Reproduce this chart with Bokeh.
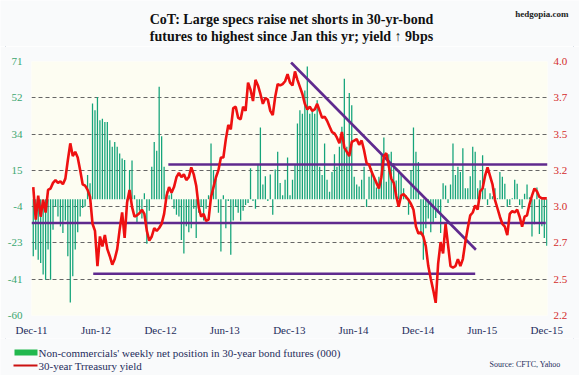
import pandas as pd
from bokeh.plotting import figure
from bokeh.layouts import column
from bokeh.models import Range1d, LinearAxis, FixedTicker, ColumnDataSource
from bokeh.core.properties import value
from bokeh.embed import file_html
from bokeh.resources import INLINE

# ---------------- data ----------------
first_week = "2011-12-06"

net_position = [
    -29.5, -26.1, -31.2, -32.9, -38.9, -41.5, -26, -41.5, -15.8, -3.8, -9, -14.1, -17.4, -11, -29.5, -53.3, -39.8, -26, -17, -9, -4.5, -3.8,
    12.4, 8.2, 49.3, 45.8, 52.7, 40.7, 41.5, 39.8, 39.8, 30.4, 27, 29.5, 27, 23.6, 21, 20.2, -2, 15, 20,
    2, -12, -6, -10, 3, -23, -6, 16.7, 29.5, 25, 58, 32.5, 16.7, 4, 2, 3, -5, -8, -9, -21, -28, -14, -17, -15, -5,
    -20, -7, -4, -11, -5, 2, 28.7, 15, 11.5, -7, -27, 2, -15, -1,
    -28.7, -11, -4, -7, -11, -6, -3, -2, 16, -1, -5, 17.8, 36.9, 7.5, 11.8, -1, 12.7, -8, 15.3, 24.4,
    8.4, 2, 10, 21.5, 2, 10, 17.8, 39, 45.8, 44, 56, 68.4, 44, 46.6, 44, 51, 16.7, 12.4, 28.7, 10, 3.8, 14,
    23.2, 16.7, 27, 37.3, 62.1, 27, 54.7, 48.4, 11.5, 7.5, 6.5, 10, 16.7, -4, 11.5, 16, 10.5, 6, 11.5, 22.7,
    31.8, 9, 23.2, 24.4, 18.6, 9.6, 15, 12.4, 5.6, 2, -8, 15, 36.9, 24.4, 19.2, -18.5, -31.2, -15, -10, -17, -12,
    -9.7, -7, -17.5, 8.2, 7, -2, 7.5, 28.7, 12.4, 16.7, 14, 26.2,
    5.6, 5.6, 11.8, 27, 24.4, 5.6, 9.7, 22.7, 5.6, -3, 3, 1.5, 5.6, 0.5, 14, 11.5, 8, -4, -3, 0.5, 10, 8, -3, -5, 2.8, 7.5, 1, -19.3,
    -13, 6, -18, -14, -20, -24,
]

treasury_yield = [
    3.11, 2.88, 3.05, 2.90, 3.02, 2.93, 3.09, 3.10, 3.14, 3.16, 3.14, 3.15, 3.13, 3.17, 3.30, 3.42, 3.33, 3.36, 3.32, 3.23,
    3.13, 3.12, 3.09, 3.04, 2.85, 2.80, 2.55, 2.76, 2.69, 2.77, 2.67, 2.62, 2.56, 2.60, 2.67, 2.81, 2.93, 2.75, 3.00, 3.09, 2.97,
    2.90, 2.91, 2.925, 2.95, 2.92, 2.80, 2.73, 2.76, 2.82, 2.80, 2.82, 2.85, 2.92, 3.05, 3.11, 3.07, 3.11, 3.18, 3.21, 3.18,
    3.20, 3.16, 3.18, 3.25, 3.20, 3.12, 2.97, 2.90, 2.92, 2.87, 2.88, 3.04, 3.11, 3.18, 3.23, 3.32, 3.32, 3.45, 3.55, 3.52, 3.67,
    3.68, 3.60, 3.59, 3.68, 3.65, 3.85, 3.80, 3.72, 3.87, 3.83, 3.77, 3.70, 3.74, 3.73, 3.65, 3.62, 3.75, 3.84, 3.83, 3.84,
    3.86, 3.91, 3.85, 3.83, 3.93, 3.87, 3.82, 3.77, 3.70, 3.66, 3.68, 3.65, 3.66, 3.70, 3.65, 3.60, 3.61, 3.58, 3.54, 3.50,
    3.49, 3.46, 3.42, 3.50, 3.39, 3.36, 3.33, 3.43, 3.44, 3.45, 3.41, 3.44, 3.37, 3.28, 3.27, 3.22, 3.18, 3.14, 3.10, 3.18,
    3.33, 3.35, 3.26, 3.17, 3.14, 3.05, 2.97, 3.05, 3.06, 3.04, 3.02, 2.99, 2.95, 2.83, 2.78, 2.79, 2.76, 2.69, 2.55, 2.46, 2.38,
    2.29, 2.57, 2.72, 2.64, 2.85, 2.70, 2.55, 2.54, 2.55, 2.60, 2.55, 2.60, 2.72, 2.82, 2.91, 2.93, 2.98, 2.95, 3.08, 3.10,
    3.19, 3.25, 3.19, 3.13, 3.02, 2.96, 2.90, 2.85, 2.83, 2.77, 2.92, 2.94, 2.93, 2.95, 2.90, 2.83, 2.90, 2.91, 2.99, 3.05,
    3.10, 3.08, 3.04, 3.03, 3.03, 3.03,
]

x_tick_dates = ["2011-12-01", "2012-06-01", "2012-12-01", "2013-06-01", "2013-12-01",
                "2014-06-01", "2014-12-01", "2015-06-01", "2015-12-01"]
x_tick_labels = ["Dec-11", "Jun-12", "Dec-12", "Jun-13", "Dec-13", "Jun-14", "Dec-14", "Jun-15", "Dec-15"]

left_ticks = [-60, -41.29, -22.57, -3.86, 14.86, 33.57, 52.29, 71]
left_labels = ["-60", "-41", "-23", "-4", "15", "34", "52", "71"]
right_ticks = [2.2, 2.457, 2.714, 2.971, 3.229, 3.486, 3.743, 4.0]
right_labels = ["2.2", "2.5", "2.7", "3.0", "3.2", "3.5", "3.7", "4.0"]

# trend lines drawn on the yield scale
trend_start_dates = ["2012-12-23", "2011-12-01", "2012-05-24", "2013-12-06"]
trend_start_yield = [3.27, 2.855, 2.496, 3.993]
trend_end_dates = ["2015-12-03", "2015-11-28", "2015-05-12", "2015-05-14"]
trend_end_yield = [3.27, 2.855, 2.496, 2.666]

title_lines = ["CoT: Large specs raise net shorts in 30-yr-bond",
               "futures to highest since Jan this yr; yield \u2191 9bps"]
brand = "hedgopia.com"
legend_labels = ["Non-commercials' weekly net position in 30-year bond futures (000)",
                 "30-year Trreasury yield"]
source_note = "Source: CFTC, Yahoo"

# ---------------- layout constants ----------------
W = 579
TOP_H, MAIN_H, BOT_H = 46, 292, 37
FL, FR = 31, 547            # frame left / right (px)
F_TOP, F_BOT = 15, 22       # frame borders inside main figure

BG_OUT = "#f9fafb"
BG_IN = "#fdfdf2"
serif = "Liberation Serif"
NAVY = "#1f2d5c"
BAR_GREEN = "#14a47a"
RED = "#ee1111"
PURPLE = "#5f2a8e"


def blank_fig(h):
    f = figure(width=W, height=h, x_range=Range1d(0, W), y_range=Range1d(h, 0),
               x_axis_type=None, y_axis_type=None, output_backend="svg", toolbar_location=None,
               min_border=0, min_border_left=0, min_border_right=0, min_border_top=0, min_border_bottom=0,
               frame_align=False)
    f.grid.visible = False
    f.outline_line_color = None
    f.background_fill_color = BG_OUT
    f.border_fill_color = BG_OUT
    return f


# ---- title strip ----
top = blank_fig(TOP_H)
top.text(x=[291, 291], y=[19, 36], text=title_lines, text_font=value(serif), text_font_style="bold",
         text_font_size="14px", text_color="#111111", text_align="center", text_baseline="middle")
top.text(x=[568], y=[13], text=[brand], text_font=value(serif), text_font_style="bold",
         text_font_size="9px", text_color="#222222", text_align="right", text_baseline="middle")

# ---- main chart ----
dates = pd.date_range(first_week, periods=len(net_position), freq="7D")
src = ColumnDataSource(dict(date=dates, net=net_position, yld=treasury_yield))

p = figure(width=W, height=MAIN_H, x_axis_type="datetime",
           x_range=Range1d(pd.Timestamp("2011-12-01"), pd.Timestamp("2015-12-03")),
           y_range=Range1d(-60, 71),
           output_backend="svg", toolbar_location=None,
           min_border_left=FL, min_border_right=W - FR,
           min_border_top=F_TOP, min_border_bottom=F_BOT, frame_align=False)
p.extra_y_ranges = {"yld": Range1d(2.2, 4.0)}
p.background_fill_color = BG_IN
p.border_fill_color = BG_OUT
p.outline_line_color = None

xa = p.xaxis[0]
xa.ticker = FixedTicker(ticks=[pd.Timestamp(d).value / 1e6 for d in x_tick_dates])
xa.major_label_overrides = {pd.Timestamp(d).value / 1e6: l for d, l in zip(x_tick_dates, x_tick_labels)}
ya = p.yaxis[0]
ya.ticker = FixedTicker(ticks=left_ticks)
ya.major_label_overrides = {t: l for t, l in zip(left_ticks, left_labels)}
ra = LinearAxis(y_range_name="yld", ticker=FixedTicker(ticks=right_ticks),
                major_label_overrides={t: l for t, l in zip(right_ticks, right_labels)})
p.add_layout(ra, "right")

for ax, col, sd in ((xa, NAVY, 8), (ya, "#3aa66f", 9), (ra, "#d42a2a", 6)):
    ax.axis_line_color = None
    ax.major_tick_line_color = None
    ax.minor_tick_line_color = None
    ax.major_tick_out = 0
    ax.major_tick_in = 0
    ax.minor_tick_out = 0
    ax.major_label_text_font = serif
    ax.major_label_text_font_size = "11px"
    ax.major_label_text_color = col
    ax.major_label_standoff = sd

p.xgrid.grid_line_color = None
p.ygrid.ticker = FixedTicker(ticks=left_ticks)
p.ygrid.grid_line_color = "#666666"
p.ygrid.grid_line_dash = "4 3"
p.ygrid.grid_line_width = 1

p.vbar(x="date", top="net", bottom=0, width=3.6 * 86400000, source=src,
       fill_color=BAR_GREEN, line_color=None)
p.segment(x0=[pd.Timestamp(d) for d in trend_start_dates], y0=trend_start_yield,
          x1=[pd.Timestamp(d) for d in trend_end_dates], y1=trend_end_yield,
          y_range_name="yld", line_color=PURPLE, line_width=2.6)
p.line(x="date", y="yld", source=src, y_range_name="yld", line_color=RED, line_width=2.6)

# ---- legend strip ----
bot = blank_fig(BOT_H)
bot.quad(left=[14], right=[37], top=[11], bottom=[17], fill_color="#22b84e", line_color=None)
bot.quad(left=[13], right=[37], top=[26], bottom=[28], fill_color="#cc1111", line_color=None)
bot.text(x=[38, 38], y=[14, 27], text=legend_labels, text_font=value(serif),
         text_font_size="11px", text_color=NAVY, text_align="left", text_baseline="middle")
bot.text(x=[560], y=[26], text=[source_note], text_font=value(serif),
         text_font_size="8px", text_color=NAVY, text_align="right", text_baseline="middle")

layout = column(top, p, bot, spacing=0,
                styles={"outline": "1px solid #cfd7e2", "outline-offset": "-6px"})
open("out.html", "w").write(file_html(layout, INLINE))
